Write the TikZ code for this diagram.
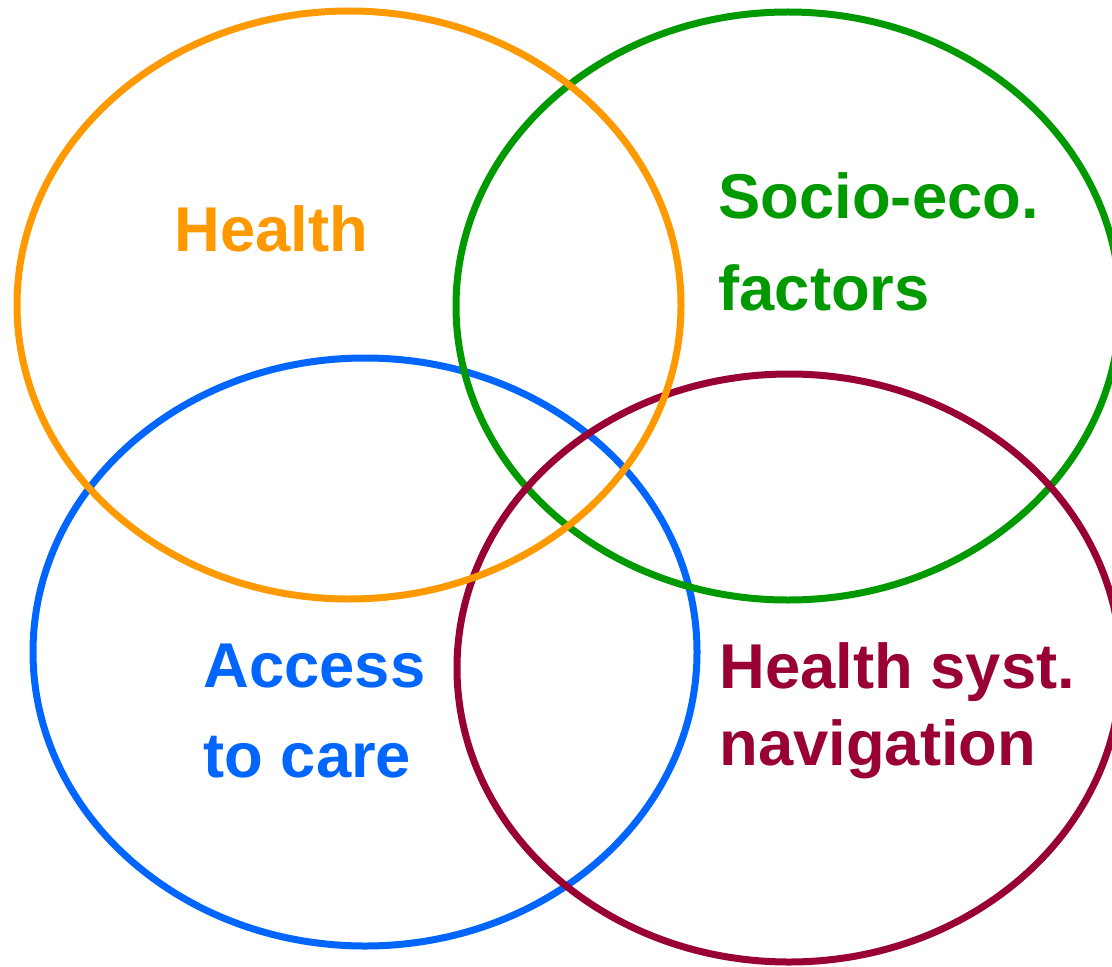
\documentclass[tikz,border=0pt]{standalone}
\usepackage{fontspec}
\setmainfont{Liberation Sans}
\usepackage{tikz}
\definecolor{health}{RGB}{255, 153, 0}
\definecolor{socio}{RGB}{0, 153, 0}
\definecolor{access}{RGB}{0, 102, 255}
\definecolor{navig}{RGB}{153, 0, 51}

\begin{document}
\begin{tikzpicture}[x=0.75pt, y=-0.75pt, line width=5.25pt,
  vennlabel/.style={anchor=base west, inner sep=0pt, align=left}]

  \useasboundingbox (0, 0) rectangle (1112, 966);
  \coordinate (cHealth) at (349, 305);
  \coordinate (cSocio)  at (788, 306);
  \coordinate (cAccess) at (365, 652);
  \coordinate (cNavig)  at (789, 668);

  \begin{scope}
    \clip (0, 0) rectangle (1112, 966);
    \draw[access] (cAccess) ellipse (332 and 294);
    \draw[socio]  (cSocio)  ellipse (332 and 294);
    \draw[navig]  (cNavig)  ellipse (332 and 294);
    \draw[health] (cHealth) ellipse (332 and 294);
  \end{scope}

  % anchors sit on the baseline of the last line
  \node[vennlabel, health, font=\fontsize{47.5}{69}\selectfont\bfseries]
    (health) at (171, 251) {Health};
  \node[vennlabel, socio, font=\fontsize{47.5}{69}\selectfont\bfseries]
    (socio) at (715, 310) {Socio-eco.\\factors};
  \node[vennlabel, access, font=\fontsize{47.5}{67.5}\selectfont\bfseries]
    (access) at (200, 777) {Access\\to care};
  \node[vennlabel, navig, font=\fontsize{47.5}{57.75}\selectfont\bfseries]
    (navig) at (716, 765) {Health syst.\\navigation};

\end{tikzpicture}
\end{document}
